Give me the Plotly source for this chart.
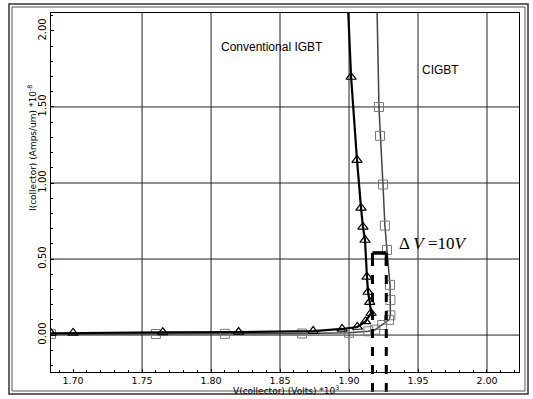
import plotly.graph_objects as go

# ---- data (V in 10^3 volts, I in 1e-8 A/um) ----
conv_v = [1.684, 1.700, 1.765, 1.820, 1.874, 1.895, 1.906, 1.912, 1.916, 1.915,
          1.9138, 1.913, 1.9116, 1.9101, 1.9087, 1.9058, 1.9015, 1.8993]
conv_i = [0.012, 0.014, 0.018, 0.020, 0.026, 0.040, 0.053, 0.090, 0.145, 0.217,
          0.283, 0.382, 0.625, 0.711, 0.836, 1.151, 1.697, 2.150]

cig_v = [1.684, 1.760, 1.810, 1.866, 1.900, 1.914, 1.919, 1.924, 1.929, 1.930,
         1.930, 1.9297, 1.9275, 1.926, 1.9246, 1.9225, 1.9217, 1.9203]
cig_i = [0.006, 0.007, 0.008, 0.010, 0.015, 0.025, 0.035, 0.066, 0.100, 0.130,
         0.230, 0.330, 0.560, 0.720, 0.990, 1.310, 1.500, 2.150]

x_ticks = [1.70, 1.75, 1.80, 1.85, 1.90, 1.95, 2.00]
y_ticks = [0.00, 0.50, 1.00, 1.50, 2.00]
x_grid = [1.75, 1.80, 1.85, 1.90, 1.95, 2.00]
y_grid = [0.0, 0.5, 1.0, 1.5]
x_range = [1.684, 2.0232]
y_range = [-0.243, 2.118]

dv_left, dv_right, dv_level = 1.917, 1.927, 0.54

fig = go.Figure()
fig.add_trace(go.Scatter(
    x=cig_v, y=cig_i, mode="lines+markers", name="CIGBT",
    line=dict(color="#444", width=1.5),
    marker=dict(symbol="square-open", size=9, color="#777", line=dict(width=1)),
))
fig.add_trace(go.Scatter(
    x=conv_v, y=conv_i, mode="lines+markers", name="Conventional IGBT",
    line=dict(color="black", width=2.2),
    marker=dict(symbol="triangle-up-open", size=9, color="black", line=dict(width=1.2)),
))

shapes = []
for gx in x_grid:
    shapes.append(dict(type="line", xref="x", yref="paper", x0=gx, x1=gx, y0=0, y1=1,
                       line=dict(color="#222", width=1), layer="below"))
for gy in y_grid:
    shapes.append(dict(type="line", xref="paper", yref="y", x0=0, x1=1, y0=gy, y1=gy,
                       line=dict(color="#222", width=1), layer="below"))

# Delta V bracket
lvl_paper = (dv_level - y_range[0]) / (y_range[1] - y_range[0])
for xv in (dv_left, dv_right):
    shapes.append(dict(type="line", xref="x", yref="paper", x0=xv, x1=xv,
                       y0=-0.056, y1=lvl_paper,
                       line=dict(color="black", width=3, dash="dash")))
    shapes.append(dict(type="line", xref="x", yref="paper", x0=xv, x1=xv,
                       y0=lvl_paper - 0.035, y1=lvl_paper,
                       line=dict(color="black", width=3)))
shapes.append(dict(type="line", xref="x", yref="y", x0=dv_left, x1=dv_right,
                   y0=dv_level, y1=dv_level, line=dict(color="black", width=3.5)))

# outer frame (double)
def px2paper(px, py):
    return (px - 51) / 468.0, (372 - py) / 359.0

ax0, ay0 = px2paper(9, 394)
ax1, ay1 = px2paper(528, 4)
shapes.append(dict(type="rect", xref="paper", yref="paper", x0=ax0, x1=ax1, y0=ay0, y1=ay1,
                   line=dict(color="#333", width=1.5)))
bx0, by0 = px2paper(12, 391)
bx1, by1 = px2paper(525, 7)
shapes.append(dict(type="rect", xref="paper", yref="paper", x0=bx0, x1=bx1, y0=by0, y1=by1,
                   line=dict(color="#555", width=1)))

annotations = [
    dict(x=1.8442, y=1.895, xref="x", yref="y", text="Conventional IGBT", showarrow=False,
         font=dict(family="Liberation Sans", size=12, color="black")),
    dict(x=1.966, y=1.743, xref="x", yref="y", text="CIGBT", showarrow=False,
         font=dict(family="Liberation Sans", size=12, color="black")),
    dict(x=1.9609, y=0.605, xref="x", yref="y", text="Δ <i>V</i> =10<i>V</i>", showarrow=False,
         font=dict(family="Liberation Serif", size=17, color="black")),
]
tx, ty = px2paper(286, 390)
annotations.append(dict(x=tx, y=ty, xref="paper", yref="paper", showarrow=False,
                        xanchor="center", yanchor="middle",
                        text="V(collector) (Volts) *10<sup>3</sup>",
                        font=dict(family="DejaVu Sans", size=9, color="black")))
yx, yy = px2paper(32, 148)
annotations.append(dict(x=yx, y=yy, xref="paper", yref="paper", showarrow=False, textangle=-90,
                        xanchor="center", yanchor="middle",
                        text="I(collector) (Amps/um) *10<sup>-8</sup>",
                        font=dict(family="DejaVu Sans", size=9, color="black")))

fig.update_layout(
    width=533, height=399,
    margin=dict(l=51, r=14, t=13, b=27),
    paper_bgcolor="white", plot_bgcolor="white",
    showlegend=False,
    shapes=shapes, annotations=annotations,
    xaxis=dict(range=x_range, tickvals=x_ticks, ticktext=[f"{v:.2f}" for v in x_ticks],
               showgrid=False, zeroline=False, showline=True, linecolor="black", linewidth=1,
               mirror=True, ticks="inside", ticklen=3, tickcolor="black",
               minor=dict(dtick=0.01, ticks="inside", ticklen=2, tickcolor="black"),
               tickfont=dict(family="DejaVu Sans", size=9.5, color="black")),
    yaxis=dict(range=y_range, tickvals=y_ticks, ticktext=[f"{v:.2f}" for v in y_ticks],
               tickangle=-90,
               showgrid=False, zeroline=False, showline=True, linecolor="black", linewidth=1,
               mirror=True, ticks="inside", ticklen=3, tickcolor="black",
               minor=dict(dtick=0.1, ticks="inside", ticklen=2, tickcolor="black"),
               tickfont=dict(family="DejaVu Sans", size=10, color="black")),
)

fig.write_html("out.html")
